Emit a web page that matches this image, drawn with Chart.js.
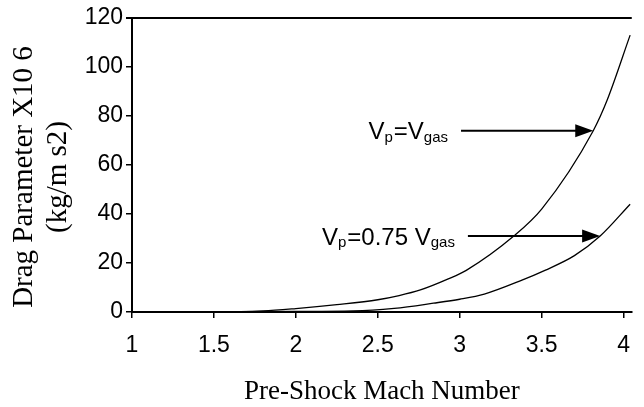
<!DOCTYPE html>
<html>
<head>
<meta charset="utf-8">
<script src="https://cdn.jsdelivr.net/npm/chart.js@4.4.1/dist/chart.umd.min.js"></script>
<style>
    html, body { margin: 0; padding: 0; background: #fff; }
    #wrap { width: 644px; height: 407px; }
</style>
</head>
<body>
<div id="wrap"><canvas id="drag-chart"></canvas></div>
<script>
// Pre-shock Mach number vs drag parameter
const machEqual = [1.0, 1.5, 1.8, 2.0, 2.25, 2.5, 2.63, 2.76, 2.93, 3.04, 3.33, 3.5, 3.815, 3.9, 4.04];
const dragEqual = [0, 0, 0.4, 1.4, 3.0, 5.0, 6.7, 9, 13.5, 17, 31, 42, 74, 86.5, 113];

const machSlow = [1.0, 2.0, 2.35, 2.6, 2.84, 3.0, 3.15, 3.38, 3.52, 3.7, 3.857, 4.04];
const dragSlow = [0, 0.2, 0.4, 1.5, 3.6, 5.2, 7.3, 13, 17, 23, 31, 44];

const xTicks = [1, 1.5, 2, 2.5, 3, 3.5, 4];
const yTicks = [0, 20, 40, 60, 80, 100, 120];

const yTitleLines = ['Drag Parameter X10 6', '(kg/m s2)'];
const xTitle = 'Pre-Shock Mach Number';

const sansFamily = "'Liberation Sans', Arial, sans-serif";
const serifFamily = "'Liberation Serif', 'Times New Roman', serif";
const tickFont = { family: sansFamily, size: 23 };
const titleFont = { family: serifFamily, size: 27, lineHeight: 1 };

// label pieces: [text, isSubscript]; text ends a little before the arrow tail
const notes = [
    { parts: [['V', 0], ['p', 1], ['=V', 0], ['gas', 1]], tailX: 3.008, tipX: 3.815, y: 74 },
    { parts: [['V', 0], ['p', 1], ['=0.75 V', 0], ['gas', 1]], tailX: 3.05, tipX: 3.857, y: 31 },
];

const notePlugin = {
    id: 'notes',
    afterDatasetsDraw(chart) {
        const { ctx, scales } = chart;
        ctx.save();
        ctx.fillStyle = '#000';
        ctx.strokeStyle = '#000';
        ctx.textBaseline = 'alphabetic';
        ctx.textAlign = 'left';
        notes.forEach((n) => {
            const py = scales.y.getPixelForValue(n.y);
            const x0 = scales.x.getPixelForValue(n.tailX);
            const x1 = scales.x.getPixelForValue(n.tipX);

            const widths = n.parts.map(([t, sub]) => {
                ctx.font = `${sub ? 15 : 24}px ${sansFamily}`;
                return ctx.measureText(t).width + (sub ? 1 : 0);
            });
            let px = x0 - 12 - widths.reduce((a, b) => a + b, 0);
            n.parts.forEach(([t, sub], i) => {
                ctx.font = `${sub ? 15 : 24}px ${sansFamily}`;
                ctx.fillText(t, px, py + (sub ? 11 : 8.5));
                px += widths[i];
            });

            ctx.lineWidth = 2;
            ctx.beginPath();
            ctx.moveTo(x0, py);
            ctx.lineTo(x1 - 14, py);
            ctx.stroke();
            ctx.beginPath();
            ctx.moveTo(x1, py);
            ctx.lineTo(x1 - 18, py - 6.5);
            ctx.lineTo(x1 - 18, py + 6.5);
            ctx.closePath();
            ctx.fill();
        });
        ctx.restore();
    },
};

// rotated two-line y title, drawn by hand so both lines sit where the figure has them
const yTitlePlugin = {
    id: 'yTitle',
    afterDraw(chart) {
        const { ctx } = chart;
        ctx.save();
        ctx.fillStyle = '#000';
        ctx.font = `29px ${serifFamily}`;
        ctx.textAlign = 'center';
        ctx.textBaseline = 'middle';
        [24, 58].forEach((x, i) => {
            ctx.save();
            ctx.translate(x, 177);
            ctx.rotate(-Math.PI / 2);
            ctx.fillText(yTitleLines[i], 0, 0);
            ctx.restore();
        });
        ctx.restore();
    },
};

function toPoints(xs, ys) {
    return xs.map((x, i) => ({ x, y: ys[i] }));
}

const lineStyle = {
    borderColor: '#000',
    borderWidth: 1.3,
    pointRadius: 0,
    fill: false,
    cubicInterpolationMode: 'monotone',
};

new Chart(document.getElementById('drag-chart'), {
    type: 'line',
    data: {
        datasets: [
            { label: 'Vp=Vgas', data: toPoints(machEqual, dragEqual), ...lineStyle },
            { label: 'Vp=0.75 Vgas', data: toPoints(machSlow, dragSlow), ...lineStyle },
        ],
    },
    plugins: [notePlugin, yTitlePlugin],
    options: {
        responsive: true,
        maintainAspectRatio: false,
        animation: false,
        layout: { padding: { top: 18, right: 2, left: 0, bottom: 0 } },
        plugins: { legend: { display: false }, tooltip: { enabled: false } },
        scales: {
            x: {
                type: 'linear',
                min: 1,
                max: 4.05,
                afterBuildTicks: (s) => { s.ticks = xTicks.map((v) => ({ value: v })); },
                afterFit: (s) => { s.height = 95; },
                grid: { display: true, drawOnChartArea: false, color: '#000', tickLength: 6, lineWidth: 1.5 },
                border: { color: '#000', width: 2 },
                ticks: {
                    font: tickFont,
                    color: '#000',
                    padding: 14,
                    maxRotation: 0,
                    callback: (v) => String(v),
                },
                title: {
                    display: true,
                    text: xTitle,
                    font: titleFont,
                    color: '#000',
                    padding: { top: 0, bottom: 2 },
                },
            },
            y: {
                min: 0,
                max: 120,
                afterBuildTicks: (s) => { s.ticks = yTicks.map((v) => ({ value: v })); },
                afterFit: (s) => { s.width = 132; },
                grid: {
                    color: (c) => (c.tick && c.tick.value === 120 ? '#000' : 'rgba(0,0,0,0)'),
                    tickColor: '#000',
                    tickLength: 6,
                    lineWidth: (c) => (c.tick && c.tick.value === 120 ? 2 : 1.5),
                },
                border: { color: '#000', width: 2 },
                ticks: { font: tickFont, color: '#000', padding: 3 },
            },
        },
    },
});
</script>
</body>
</html>
